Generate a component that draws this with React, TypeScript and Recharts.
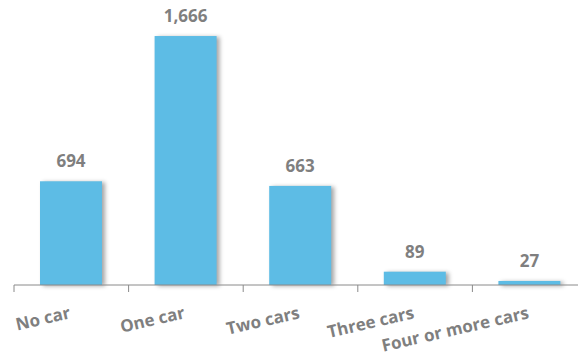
import React from "react";
import { BarChart, Bar, XAxis, YAxis, LabelList } from "recharts";

const categories = ["No car", "One car", "Two cars", "Three cars", "Four or more cars"];
const households = [694, 1666, 663, 89, 27];

const data = categories.map((name, i) => ({ name, value: households[i] }));

const GREY = "#7f7f7f";

// Excel style: tick marks sit between categories, labels slanted and end-anchored
function CategoryTick(props: any) {
    const { x, y, payload } = props;
    const half = payload?.offset ?? 57;
    return (
        <g>
            <line x1={x - half} y1={y} x2={x - half} y2={y + 7} stroke="#8a8a8a" strokeWidth={1} />
            <text
                x={x}
                y={y + 33}
                textAnchor="end"
                transform={`rotate(-13, ${x}, ${y + 33})`}
                fill={GREY}
                fontSize={17}
                fontWeight={700}
                fontFamily="'Open Sans', sans-serif"
            >
                {payload.value}
            </text>
        </g>
    );
}

function ShadowBar(props: any) {
    const { x, y, width, height, fill } = props;
    if (!height || height <= 0) return null;
    return (
        <rect
            x={x}
            y={y}
            width={width}
            height={height}
            fill={fill}
            style={{ filter: "drop-shadow(3px 1px 2px rgba(0,0,0,0.35))" }}
        />
    );
}

export default function App() {
    return (
        <div style={{ position: "fixed", top: 0, left: 0, width: 578, height: 360, overflow: "hidden", background: "#fff" }}>
            <BarChart
                width={590}
                height={360}
                data={data}
                margin={{ top: 16, right: 3, left: 14, bottom: 0 }}
            >
                <XAxis
                    dataKey="name"
                    axisLine={{ stroke: "#8a8a8a", strokeWidth: 1 }}
                    tickLine={false}
                    tickSize={0}
                    tickMargin={0}
                    height={75}
                    interval={0}
                    tick={<CategoryTick />}
                />
                <YAxis hide domain={[0, 1800]} />
                <Bar dataKey="value" fill="#5dbce5" barSize={62} isAnimationActive={false} shape={<ShadowBar />}>
                    <LabelList
                        dataKey="value"
                        position="top"
                        offset={14}
                        formatter={(v: any) => Number(v).toLocaleString("en-US")}
                        fill={GREY}
                        fontSize={17}
                        fontWeight={700}
                        fontFamily="'Open Sans', sans-serif"
                    />
                </Bar>
            </BarChart>
        </div>
    );
}
